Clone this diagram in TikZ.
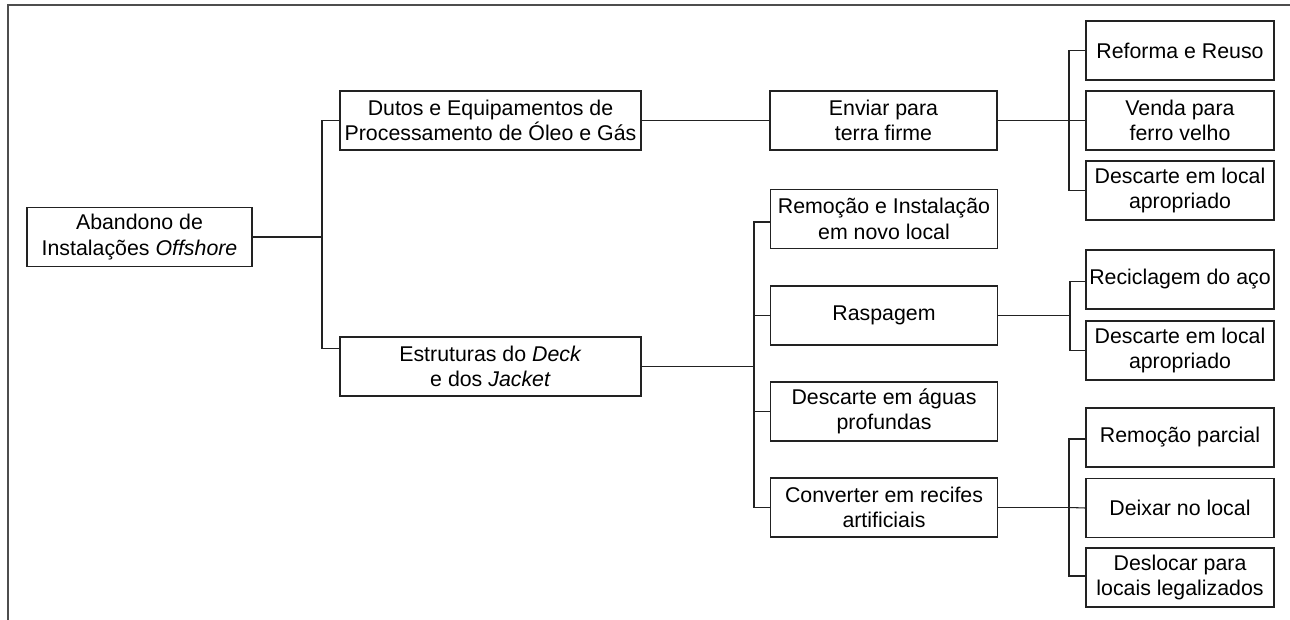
\documentclass[tikz,border=0pt]{standalone}
\usepackage{fontspec}
\setmainfont{Liberation Sans}
\usetikzlibrary{calc}
\definecolor{linec}{HTML}{222222}
\definecolor{framec}{HTML}{4D4D4D}
\tikzset{
  bx/.style={draw=linec, line width=0.8pt, align=center, inner sep=0pt,
    font=\fontsize{16}{19}\selectfont, minimum height=44.25pt},
  wroot/.style={bx, minimum width=168.75pt},
  wlvl1/.style={bx, minimum width=225.75pt},
  wlvl2/.style={bx, minimum width=170.25pt},
  wlvl3/.style={bx, minimum width=141pt},
  ln/.style={draw=linec, line width=0.8pt},
  frameln/.style={draw=framec, line width=1.2pt}
}
\begin{document}
\begin{tikzpicture}[x=0.75pt,y=-0.75pt]
\useasboundingbox (0,0) rectangle (1290,620);
\draw[frameln] (8,620) -- (8,5) -- (1290,5);

\node[wroot] (root) at (139.5,237) {Abandono de\\Instalações \textit{Offshore}};
\node[wlvl1] (dutos) at (490.5,120.5) {Dutos e Equipamentos de\\Processamento de Óleo e Gás};
\node[wlvl1] (estr) at (490.5,366.5) {Estruturas do \textit{Deck}\\e dos \textit{Jacket}};

\node[wlvl2] (env) at (883.5,120.5) {Enviar para\\terra firme};
\node[wlvl2] (rem) at (884,219) {Remoção e Instalação\\em novo local};
\node[wlvl2] (ras) at (884,315.5) {Raspagem};
\node[wlvl2] (agu) at (884,411.5) {Descarte em águas\\profundas};
\node[wlvl2] (conv) at (884,507.5) {Converter em recifes\\artificiais};

\node[wlvl3] (ref) at (1180,50.5) {Reforma e Reuso};
\node[wlvl3] (ven) at (1180,120.5) {Venda para\\ferro velho};
\node[wlvl3] (desa) at (1180,190.5) {Descarte em local\\apropriado};
\node[wlvl3] (rec) at (1180,279.5) {Reciclagem do aço};
\node[wlvl3] (desb) at (1180,350.5) {Descarte em local\\apropriado};
\node[wlvl3] (rpar) at (1180,437.5) {Remoção parcial};
\node[wlvl3] (deix) at (1180,508) {Deixar no local};
\node[wlvl3] (desl) at (1180,577.5) {Deslocar para\\locais legalizados};

% root branches
\coordinate (j1) at (322,237);
\draw[ln] (root.east) -- (j1);
\draw[ln] (dutos.west) -| (j1) |- ($(estr.north west)+(0,12)$);

% dutos -> enviar -> children
\draw[ln] (dutos.east) -- (env.west);
\coordinate (j2) at (1069,120.5);
\draw[ln] (env.east) -- (j2);
\draw[ln] (ref.west) -| (j2) |- (desa.west);
\draw[ln] (j2) -- (ven.west);

% estruturas -> options
\coordinate (j3) at (754,366.5);
\draw[ln] (estr.east) -- (j3);
\draw[ln] ($(rem.west)+(0,3)$) -| (j3) |- (conv.west);
\draw[ln] (ras.west) -- (ras.west -| j3);
\draw[ln] (agu.west) -- (agu.west -| j3);

% raspagem -> children
\coordinate (j4) at (1070,315.5);
\draw[ln] (ras.east) -- (j4);
\draw[ln] ($(rec.west)+(0,2)$) -| (j4) |- (desb.west);

% converter -> children
\coordinate (j5) at (1069,507.5);
\draw[ln] (conv.east) -- (j5);
\draw[ln] ($(rpar.west)+(0,1.5)$) -| (j5) |- ($(desl.west)+(0,-1.5)$);
\draw[ln] (j5) -- (deix.west);
\end{tikzpicture}
\end{document}
